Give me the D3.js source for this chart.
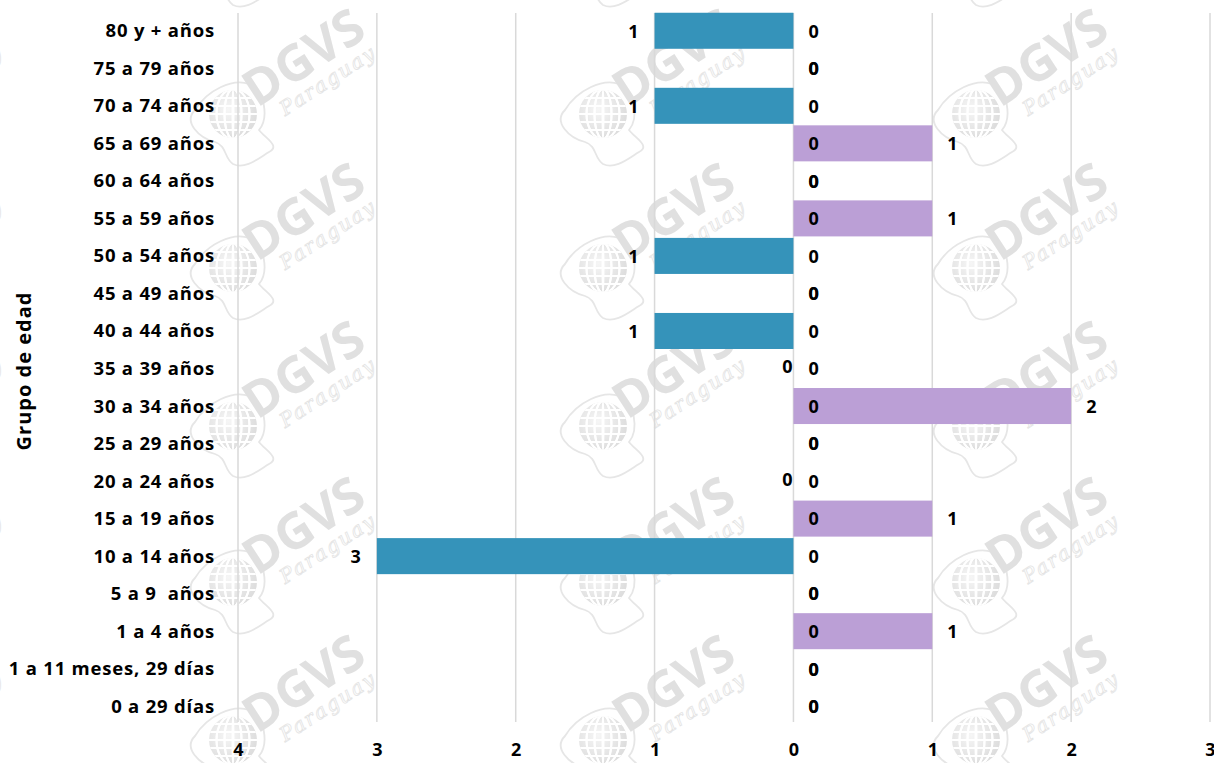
<!DOCTYPE html>
<html>
<head>
<meta charset="utf-8">
<script src="https://cdn.jsdelivr.net/npm/d3@7"></script>
<style>
  html, body { margin: 0; padding: 0; background: #fff; }
  svg { display: block; font-family: 'Open Sans', sans-serif; }
  .y-axis text { white-space: pre; }
</style>
</head>
<body>
<div id="chart"></div>
<script>
// age groups, top to bottom
const groups = [
  '80 y + años', '75 a 79 años', '70 a 74 años', '65 a 69 años', '60 a 64 años',
  '55 a 59 años', '50 a 54 años', '45 a 49 años', '40 a 44 años', '35 a 39 años',
  '30 a 34 años', '25 a 29 años', '20 a 24 años', '15 a 19 años', '10 a 14 años',
  '5 a 9  años', '1 a 4 años', '1 a 11 meses, 29 días', '0 a 29 días'
];
// left side (blue) and right side (purple)
const leftValues  = [1, 0, 1, 0, 0, 0, 1, 0, 1, 0, 0, 0, 0, 0, 3, 0, 0, 0, 0];
const rightValues = [0, 0, 0, 1, 0, 1, 0, 0, 0, 0, 2, 0, 0, 1, 0, 0, 1, 0, 0];
// rows where the zero label of the left series sits left of the axis
const leftZeroOutside = ['35 a 39 años', '20 a 24 años'];
const xTicks = [-4, -3, -2, -1, 0, 1, 2, 3];
const yTitle = 'Grupo de edad';

const W = 1214, H = 763;
const blue = '#3593ba';
const purple = '#bb9fd6';
const font = "'Open Sans', sans-serif";

const svg = d3.select('#chart').append('svg')
  .attr('width', W)
  .attr('height', H);

const x = d3.scaleLinear().domain([-4, 3]).range([238, 1210]);
const y = d3.scaleBand().domain(groups).range([12, 725]).paddingInner(0.04).paddingOuter(0.02);

// ---- watermark (DGVS Paraguay) ----
const defs = svg.append('defs');
const grad = defs.append('radialGradient').attr('id', 'globe-grad')
  .attr('cx', '40%').attr('cy', '40%').attr('r', '65%');
grad.append('stop').attr('offset', 0).attr('stop-color', '#f6f6f6');
grad.append('stop').attr('offset', 1).attr('stop-color', '#dcdcdc');
defs.append('clipPath').attr('id', 'globe-clip')
  .append('circle').attr('r', 24);

const mark = defs.append('g').attr('id', 'wm');
mark.append('path')
  .attr('d', 'M-38,-4 C-50,8 -34,24 -18,28 C-6,32 -9,44 0,50 C12,56 26,44 36,38 C48,32 32,24 26,16 C36,4 32,-24 16,-30 C0,-36 -26,-24 -38,-4 Z')
  .attr('fill', 'none').attr('stroke', '#e6e6e6').attr('stroke-width', 1.8);
mark.append('circle').attr('r', 24).attr('fill', 'url(#globe-grad)');
const gridG = mark.append('g').attr('clip-path', 'url(#globe-clip)')
  .attr('stroke', '#fff').attr('stroke-width', 2).attr('fill', 'none');
d3.range(-16, 17, 8).forEach(v => {
  gridG.append('ellipse').attr('rx', Math.abs(v) + 0.5).attr('ry', 25);
  gridG.append('line').attr('x1', -25).attr('x2', 25).attr('y1', v).attr('y2', v);
});
const txt = mark.append('g').attr('transform', 'translate(80,-42) rotate(-33)');
txt.append('text')
  .attr('text-anchor', 'middle')
  .attr('font-size', 50)
  .attr('font-weight', 700)
  .attr('font-family', font)
  .attr('fill', '#e0e0e0')
  .text('DGVS');
txt.append('text')
  .attr('x', 8).attr('y', 22)
  .attr('text-anchor', 'middle')
  .attr('font-size', 20)
  .attr('font-style', 'italic')
  .attr('font-family', 'DejaVu Serif, serif')
  .attr('fill', 'none')
  .attr('stroke', '#e4e4e4')
  .attr('stroke-width', 0.8)
  .attr('letter-spacing', 2)
  .text('Paraguay');

const wmCols = [-140, 233, 603, 976];
const wmRows = [-45, 114, 268, 426, 582, 740];
const wmLayer = svg.append('g').attr('class', 'watermark');
wmCols.forEach(cx => wmRows.forEach(cy => {
  wmLayer.append('use').attr('href', '#wm').attr('transform', `translate(${cx},${cy})`);
}));

// ---- gridlines ----
svg.append('g').attr('class', 'grid')
  .selectAll('line')
  .data(xTicks)
  .join('line')
  .attr('x1', d => x(d)).attr('x2', d => x(d))
  .attr('y1', 13).attr('y2', 722)
  .attr('stroke', '#d9d9d9')
  .attr('stroke-width', 1.5);

// ---- bars ----
const rows = groups.map((g, i) => ({ g, l: leftValues[i], r: rightValues[i] }));

svg.append('g').selectAll('rect')
  .data(rows.filter(d => d.l > 0))
  .join('rect')
  .attr('x', d => x(-d.l))
  .attr('width', d => x(0) - x(-d.l))
  .attr('y', d => y(d.g))
  .attr('height', y.bandwidth())
  .attr('fill', blue);

svg.append('g').selectAll('rect')
  .data(rows.filter(d => d.r > 0))
  .join('rect')
  .attr('x', x(0))
  .attr('width', d => x(d.r) - x(0))
  .attr('y', d => y(d.g))
  .attr('height', y.bandwidth())
  .attr('fill', purple);

// ---- value labels ----
const labelG = svg.append('g')
  .attr('font-size', 18)
  .attr('font-weight', 700)
  .attr('font-family', font)
  .attr('fill', '#000');

labelG.selectAll('.lab-r')
  .data(rows)
  .join('text')
  .attr('class', 'lab-r')
  .attr('x', d => x(d.r) + 15)
  .attr('y', d => y(d.g) + y.bandwidth() / 2 + 2)
  .attr('dominant-baseline', 'middle')
  .text(d => d.r);

labelG.selectAll('.lab-l')
  .data(rows)
  .join('text')
  .attr('class', 'lab-l')
  .attr('x', d => {
    if (d.l > 0) return x(-d.l) - 16;
    return leftZeroOutside.includes(d.g) ? x(0) - 1 : x(0) + 15;
  })
  .attr('text-anchor', d => (d.l > 0 || leftZeroOutside.includes(d.g)) ? 'end' : 'start')
  .attr('y', d => y(d.g) + y.bandwidth() / 2 + (leftZeroOutside.includes(d.g) ? 0 : 2))
  .attr('dominant-baseline', 'middle')
  .text(d => d.l);

// ---- axes ----
const xAxis = d3.axisBottom(x).tickValues(xTicks).tickFormat(d => Math.abs(d)).tickSize(0);
svg.append('g')
  .attr('transform', 'translate(0,740)')
  .call(xAxis)
  .call(g => g.select('.domain').remove())
  .selectAll('text')
  .attr('font-size', 18)
  .attr('font-weight', 700)
  .attr('font-family', font)
  .attr('fill', '#000');

const yAxis = d3.axisLeft(y).tickSize(0).tickPadding(0);
svg.append('g')
  .attr('class', 'y-axis')
  .attr('transform', 'translate(215,0)')
  .call(yAxis)
  .call(g => g.select('.domain').remove())
  .selectAll('text')
  .attr('font-size', 18.5)
  .attr('letter-spacing', 0.8)
  .attr('font-weight', 700)
  .attr('font-family', font)
  .attr('fill', '#000')
  .attr('dy', '0.35em');

svg.append('text')
  .attr('transform', 'translate(31,371) rotate(-90)')
  .attr('text-anchor', 'middle')
  .attr('font-size', 20)
  .attr('letter-spacing', 1)
  .attr('font-weight', 700)
  .attr('font-family', font)
  .attr('fill', '#000')
  .text(yTitle);
</script>
</body>
</html>
